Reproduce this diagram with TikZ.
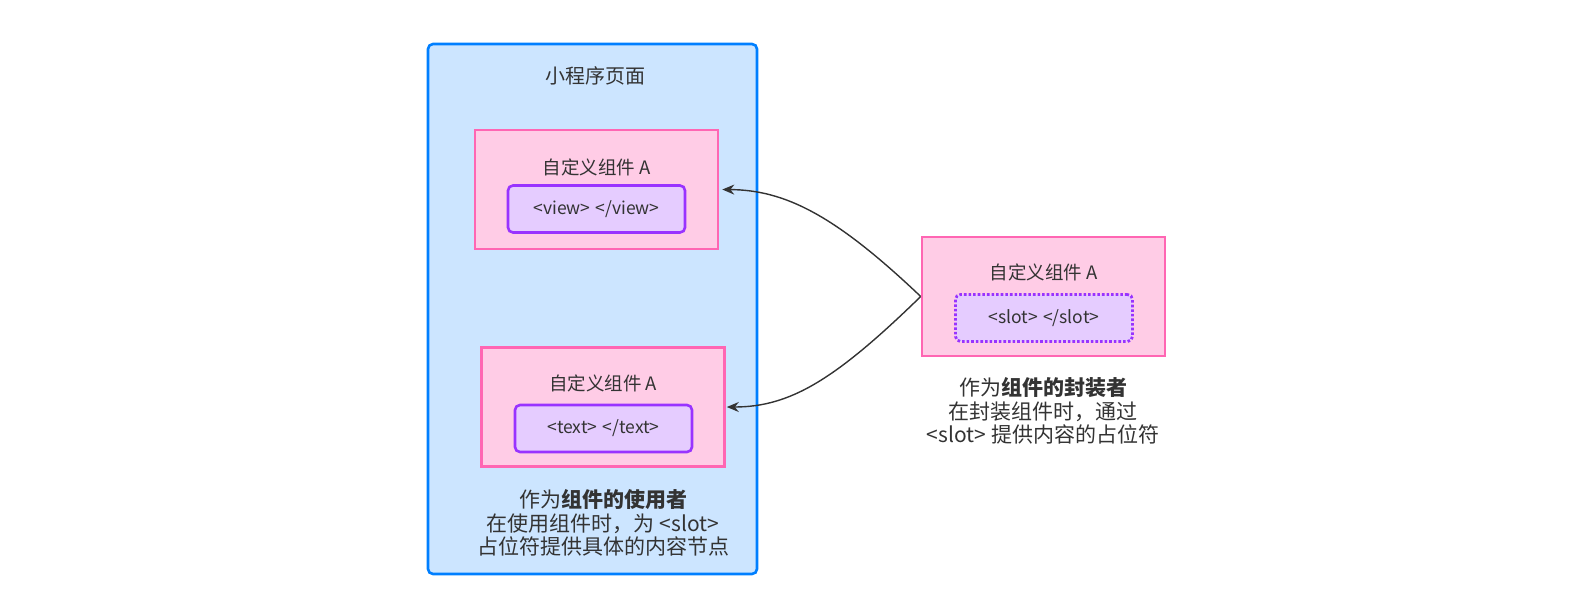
\documentclass[tikz,border=0pt]{standalone}
\usepackage{fontspec}
\setmainfont{Noto Sans CJK SC}
\usepackage{tikz}
\usetikzlibrary{positioning, arrows.meta}
\definecolor{pageblue}{HTML}{007FFF}
\definecolor{pagefill}{HTML}{CCE5FF}
\definecolor{compline}{HTML}{FF66B3}
\definecolor{compfill}{HTML}{FFCCE6}
\definecolor{tagline}{HTML}{9933FF}
\definecolor{tagfill}{HTML}{E5CCFF}
\definecolor{inktext}{HTML}{333333}
\tikzset{
  Arrow/.style = {draw=inktext, line width=1.4pt, -{Stealth[length=12pt, width=10pt]}},
}

\begin{document}
\begin{tikzpicture}[
			x = 1pt, y = -1pt,
			every node/.style = {text = inktext, inner sep = 0pt},
			page/.style = {rectangle, rounded corners = 5pt, draw = pageblue, fill = pagefill, line width = 2.6pt},
			component/.style = {rectangle, draw = compline, fill = compfill, line width = 2.6pt, minimum width = 243pt, minimum height = 119pt},
			tagbox/.style = {rectangle, rounded corners = 5pt, draw = tagline, fill = tagfill, line width = 2.6pt, minimum width = 177pt, minimum height = 47pt, font = \fontsize{17.5}{20}\selectfont},
			slotbox/.style = {tagbox, dotted, line width = 2.8pt},
			title/.style = {font = \fontsize{18.5}{22}\selectfont},
			caption/.style = {align = center, font = \fontsize{21}{23.5}\selectfont},
		]
		\useasboundingbox (0,0) rectangle (1583,608);

		% page of the mini program
		\node[page, minimum width = 329pt, minimum height = 530pt](Page) at (592.5,309){};
		\node[font = \fontsize{20}{24}\selectfont](PageTitle) at (595,76){小程序页面};

		% user side
		\node[component](CompView) at (596.5,189.5){};
		\node[title](CompViewTitle) at (596.5,167){自定义组件 A};
		\node[tagbox](View) at (596.5,209){<view>\hspace{5pt}</view>};

		\node[component](CompText) at (603,407){};
		\node[title](CompTextTitle) at (603,383){自定义组件 A};
		\node[tagbox](Text) at (603.5,428.5){<text>\hspace{5pt}</text>};

		\node[caption](UserNote) at (603,523){作为\textbf{组件的使用者}\\在使用组件时，为 <slot>\\占位符提供具体的内容节点};

		% wrapper side
		\node[component](Wrapper) at (1043.5,296.5){};
		\node[title](WrapperTitle) at (1043.5,272){自定义组件 A};
		\node[slotbox](Slot) at (1044,318){<slot>\hspace{5pt}</slot>};

		\node[caption](WrapperNote) at (1043,411){作为\textbf{组件的封装者}\\在封装组件时，通过\\<slot> 提供内容的占位符};

		\draw[Arrow](Wrapper.west) .. controls (835,215) and (785,190) .. ([xshift=3pt]CompView.east);
		\draw[Arrow](Wrapper.west) .. controls (835,380) and (790,407) .. ([xshift=1pt]CompText.east);

	\end{tikzpicture}
\end{document}
